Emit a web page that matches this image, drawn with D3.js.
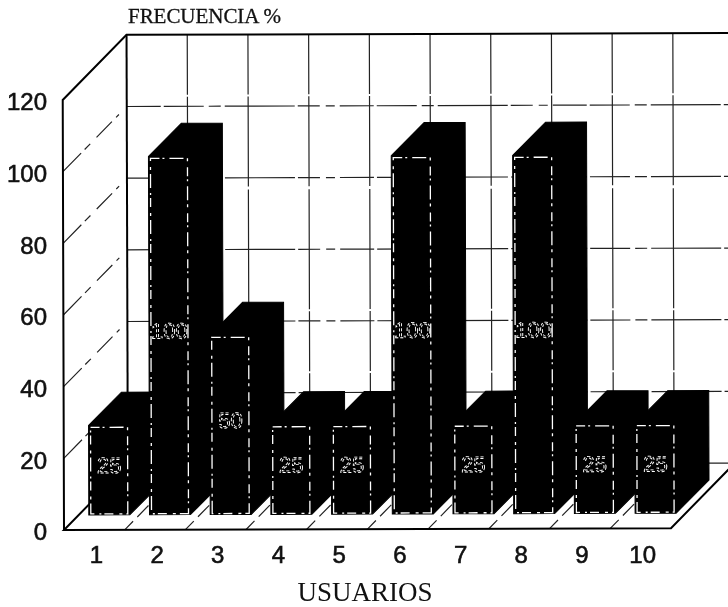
<!DOCTYPE html>
<meta charset="utf-8">
<style>
body { margin: 0; background: #fff; }
svg { display: block; filter: grayscale(1); }
.axis path, .axis line { display: none; }
.axis text {
  font-family: "Liberation Sans", sans-serif;
  font-size: 24px;
  fill: #111;
  stroke: #111;
  stroke-width: 0.6px;
}
.title { font-family: "Liberation Serif", serif; fill: #111; }
.wall { fill: none; stroke: #000; stroke-width: 2px; }
.grid { fill: none; stroke: #222; stroke-width: 1.2px; }
.bar { fill: #000; stroke: #000; stroke-width: 1px; }
.inner { fill: none; stroke: #fff; stroke-width: 1.3px; stroke-dasharray: 9 3 2 5 14 4 3 6; }
.val {
  font-family: "Liberation Sans", sans-serif;
  font-size: 22px;
  text-anchor: middle;
  fill: none;
  stroke: #fff;
  stroke-width: 0.9px;
  stroke-dasharray: 3 2;
}
</style>

<div id="chart"></div>
<script src="https://d3js.org/d3.v7.min.js"></script>
<script>
var usuarios = ["1", "2", "3", "4", "5", "6", "7", "8", "9", "10"];
var frecuencia = [25, 100, 50, 25, 25, 100, 25, 100, 25, 25];
var yTicks = [0, 20, 40, 60, 80, 100, 120];

var w = 728,
  h = 607,
  depth = 64,      // wall offset, front plane to back plane
  barInset = 15,   // how far the bars sit behind the front edge of the floor
  barDepth = 33,
  barW = 41;

var svg = d3.select("#chart")
  .append("svg")
  .attr("width", w)
  .attr("height", h);

// front plane of the box
var x = d3.scaleBand().domain(usuarios).range([64, 671]),
    y = d3.scaleLinear().domain([0, 120]).range([530, 100]);

// the page was scanned a little crooked
var plot = svg.append("g")
  .attr("transform", "rotate(-0.17 64 530)");

function pts(a) { return a.map(function (p) { return p.join(","); }).join(" "); }

var backX = function (c) { return x(c) + depth; };
var right = x.range()[1];

// back wall gridlines
var dashH = "34 3 40 5 12 4 70 3 22 6 9 5";
plot.selectAll(".gridh")
  .data(yTicks.slice(1, 6))
  .enter()
  .append("line")
  .attr("class", "grid")
  .attr("x1", x.range()[0] + depth)
  .attr("x2", w + 10)
  .attr("y1", function (d) { return y(d) - depth - 1; })
  .attr("y2", function (d) { return y(d) - depth - 1; })
  .attr("stroke-dasharray", dashH);

plot.selectAll(".gridv")
  .data(usuarios.slice(1))
  .enter()
  .append("line")
  .attr("class", "grid")
  .attr("x1", backX)
  .attr("x2", backX)
  .attr("y1", y(120) - depth - 1)
  .attr("y2", y(0) - depth - 1)
  .attr("stroke-dasharray", "60 2 90 3 120 2");

// left wall gridlines
plot.selectAll(".gridl")
  .data(yTicks.slice(1, 6))
  .enter()
  .append("line")
  .attr("class", "grid")
  .attr("x1", x.range()[0])
  .attr("x2", x.range()[0] + depth)
  .attr("y1", function (d) { return y(d); })
  .attr("y2", function (d) { return y(d) - depth - 1; })
  .attr("stroke-dasharray", "26 5 8 9 22 6 4 12");

// floor gridlines
plot.selectAll(".gridf")
  .data(usuarios.slice(1))
  .enter()
  .append("line")
  .attr("class", "grid")
  .attr("x1", function (d) { return x(d); })
  .attr("x2", backX)
  .attr("y1", y(0))
  .attr("y2", y(0) - depth - 1)
  .attr("stroke-dasharray", "12 6 16 5 10 8");

plot.append("line")
  .attr("class", "grid")
  .attr("x1", right + depth - 40).attr("x2", w + 10)
  .attr("y1", y(0) - depth - 1).attr("y2", y(0) - depth - 1);

// box outline
plot.append("polyline")
  .attr("class", "wall")
  .attr("points", pts([
    [x.range()[0], y(0)], [x.range()[0], y(120)],
    [x.range()[0] + depth, y(120) - depth - 1], [w + 10, y(120) - depth - 1]
  ]));

plot.append("line")
  .attr("class", "wall")
  .attr("x1", x.range()[0] + depth).attr("x2", x.range()[0] + depth)
  .attr("y1", y(120) - depth - 1).attr("y2", y(0) - depth - 1);

plot.append("polyline")
  .attr("class", "wall")
  .attr("points", pts([
    [x.range()[0] + depth, y(0) - depth - 1], [x.range()[0], y(0)],
    [right, y(0)], [right + depth, y(0) - depth - 1]
  ]));

// bars, left to right
var bars = plot.selectAll(".b")
  .data(frecuencia)
  .enter()
  .append("g");

function barLeft(d, i) { return x(usuarios[i]) + (x.bandwidth() - barW) / 2 + barInset; }
function barTop(d) { return y(d) - barInset; }
var barBase = y(0) - barInset;

bars.append("polygon")
  .attr("class", "bar")
  .attr("points", function (d, i) {
    var l = barLeft(d, i), t = barTop(d);
    return pts([
      [l, barBase], [l, t], [l + barDepth, t - barDepth],
      [l + barW + barDepth, t - barDepth], [l + barW + barDepth, barBase - barDepth],
      [l + barW, barBase]
    ]);
  });

bars.append("rect")
  .attr("class", "inner")
  .attr("x", function (d, i) { return barLeft(d, i) + 2; })
  .attr("y", function (d) { return barTop(d) + 2; })
  .attr("width", barW - 4)
  .attr("height", function (d) { return barBase - barTop(d) - 3; });

bars.append("text")
  .attr("class", "val")
  .attr("x", function (d, i) { return barLeft(d, i) + barW / 2; })
  .attr("y", function (d) { return (barTop(d) + barBase) / 2 + 3; })
  .text(function (d) { return d; });

// axis labels
svg.append("g")
  .attr("class", "axis")
  .attr("transform", "translate(47, 2)")
  .call(d3.axisLeft(y).tickValues(yTicks).tickSize(0).tickPadding(0));

svg.append("g")
  .attr("class", "axis")
  .attr("transform", "translate(2, 542)")
  .call(d3.axisBottom(x).tickSize(0).tickPadding(4));

svg.append("text")
  .attr("class", "title")
  .attr("x", 128).attr("y", 23)
  .attr("font-size", 21)
  .attr("textLength", 153)
  .attr("stroke", "#111").attr("stroke-width", 0.3)
  .text("FRECUENCIA %");

svg.append("text")
  .attr("class", "title")
  .attr("x", 365).attr("y", 601)
  .attr("text-anchor", "middle")
  .attr("font-size", 27)
  .text("USUARIOS");
</script>
